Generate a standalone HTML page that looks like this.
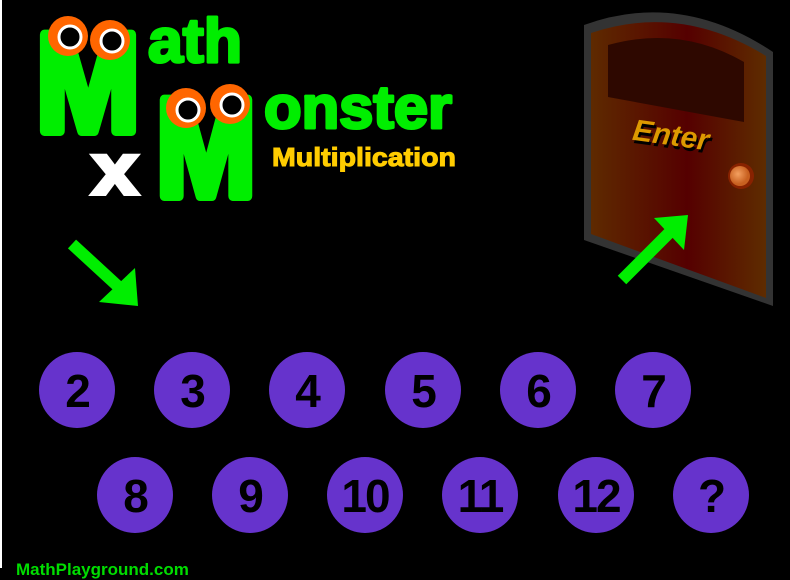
<!DOCTYPE html>
<html><head><style>
body{margin:0;width:790px;height:568px;background:#000;overflow:hidden;position:relative;font-family:"Liberation Sans",sans-serif}
.c{position:absolute;width:76px;height:76px;border-radius:50%;background:#6633cc;color:#000;font-weight:bold;font-size:46px;line-height:78px;text-align:center;letter-spacing:-2px}
</style></head><body>
<div style="position:absolute;left:0;top:0;width:2px;height:568px;background:#fff"></div>
<svg width="790" height="568" style="position:absolute;left:0;top:0">
<defs>
<linearGradient id="d" x1="0" x2="1"><stop offset="0" stop-color="#5e2a00"/><stop offset="0.55" stop-color="#550000"/><stop offset="1" stop-color="#5e2c00"/></linearGradient>
<radialGradient id="k" cx="0.4" cy="0.4"><stop offset="0" stop-color="#f4a060"/><stop offset="1" stop-color="#c86020"/></radialGradient>
</defs>
<g font-family="Liberation Sans" font-weight="bold" fill="#00ee00" stroke="#00ee00" stroke-linejoin="round">
<text x="36" y="131" font-size="140" stroke-width="10" textLength="104" lengthAdjust="spacingAndGlyphs">M</text>
<text x="148" y="62" font-size="62" stroke-width="3" textLength="94" lengthAdjust="spacingAndGlyphs">ath</text>
<text x="156" y="196" font-size="140" stroke-width="10" textLength="100" lengthAdjust="spacingAndGlyphs">M</text>
<text x="264" y="128" font-size="60" stroke-width="3" textLength="188" lengthAdjust="spacingAndGlyphs">onster</text>
</g>
<text x="272" y="166" font-family="Liberation Sans" font-weight="bold" font-size="26" fill="#ffcc00" stroke="#ffcc00" stroke-width="1" textLength="184" lengthAdjust="spacingAndGlyphs">Multiplication</text>
<text x="92" y="194" font-family="Liberation Sans" font-weight="bold" font-size="72" fill="#fff" stroke="#fff" stroke-width="4" textLength="46" lengthAdjust="spacingAndGlyphs">x</text>
<g fill="#ff6600"><circle cx="68" cy="36" r="20"/><circle cx="110" cy="40" r="20"/><circle cx="186" cy="108" r="20"/><circle cx="230" cy="104" r="20"/></g>
<g fill="#000" stroke="#fff" stroke-width="3"><circle cx="70" cy="37" r="11"/><circle cx="112" cy="41" r="11"/><circle cx="188" cy="110" r="11"/><circle cx="232" cy="105" r="11"/></g>
<path d="M584,25 Q680,-10 773,52 L773,306 L584,240 Z" fill="#333"/>
<path d="M591,33 Q680,3 766,56 L766,298 L591,234 Z" fill="url(#d)"/>
<path d="M608,45 Q680,25 744,62 L744,122 L608,97 Z" fill="#2e0800"/>
<text x="634" y="148" font-family="Liberation Sans" font-weight="bold" font-style="italic" font-size="30" fill="#000" transform="rotate(8 670 140)">Enter</text>
<text x="632" y="145" font-family="Liberation Sans" font-weight="bold" font-style="italic" font-size="30" fill="#dd9900" transform="rotate(8 670 140)">Enter</text>
<circle cx="741" cy="176" r="13" fill="#882200"/><circle cx="740" cy="176" r="10" fill="url(#k)"/>
<g stroke="#00ee00" stroke-width="12"><line x1="72" y1="244" x2="122" y2="290"/><line x1="622" y1="280" x2="672" y2="230"/></g>
<polygon points="138,306 99,302 135,268" fill="#00ee00"/>
<polygon points="688,215 654,218 684,250" fill="#00ee00"/>
</svg>
<div class="c" style="left:39px;top:352px">2</div>
<div class="c" style="left:154px;top:352px">3</div>
<div class="c" style="left:269px;top:352px">4</div>
<div class="c" style="left:385px;top:352px">5</div>
<div class="c" style="left:500px;top:352px">6</div>
<div class="c" style="left:615px;top:352px">7</div>
<div class="c" style="left:97px;top:457px">8</div>
<div class="c" style="left:212px;top:457px">9</div>
<div class="c" style="left:327px;top:457px">10</div>
<div class="c" style="left:442px;top:457px">11</div>
<div class="c" style="left:558px;top:457px">12</div>
<div class="c" style="left:673px;top:457px">?</div>
<div style="position:absolute;left:16px;top:560px;color:#00dd00;font-weight:bold;font-size:17px">MathPlayground.com</div>
</body></html>
